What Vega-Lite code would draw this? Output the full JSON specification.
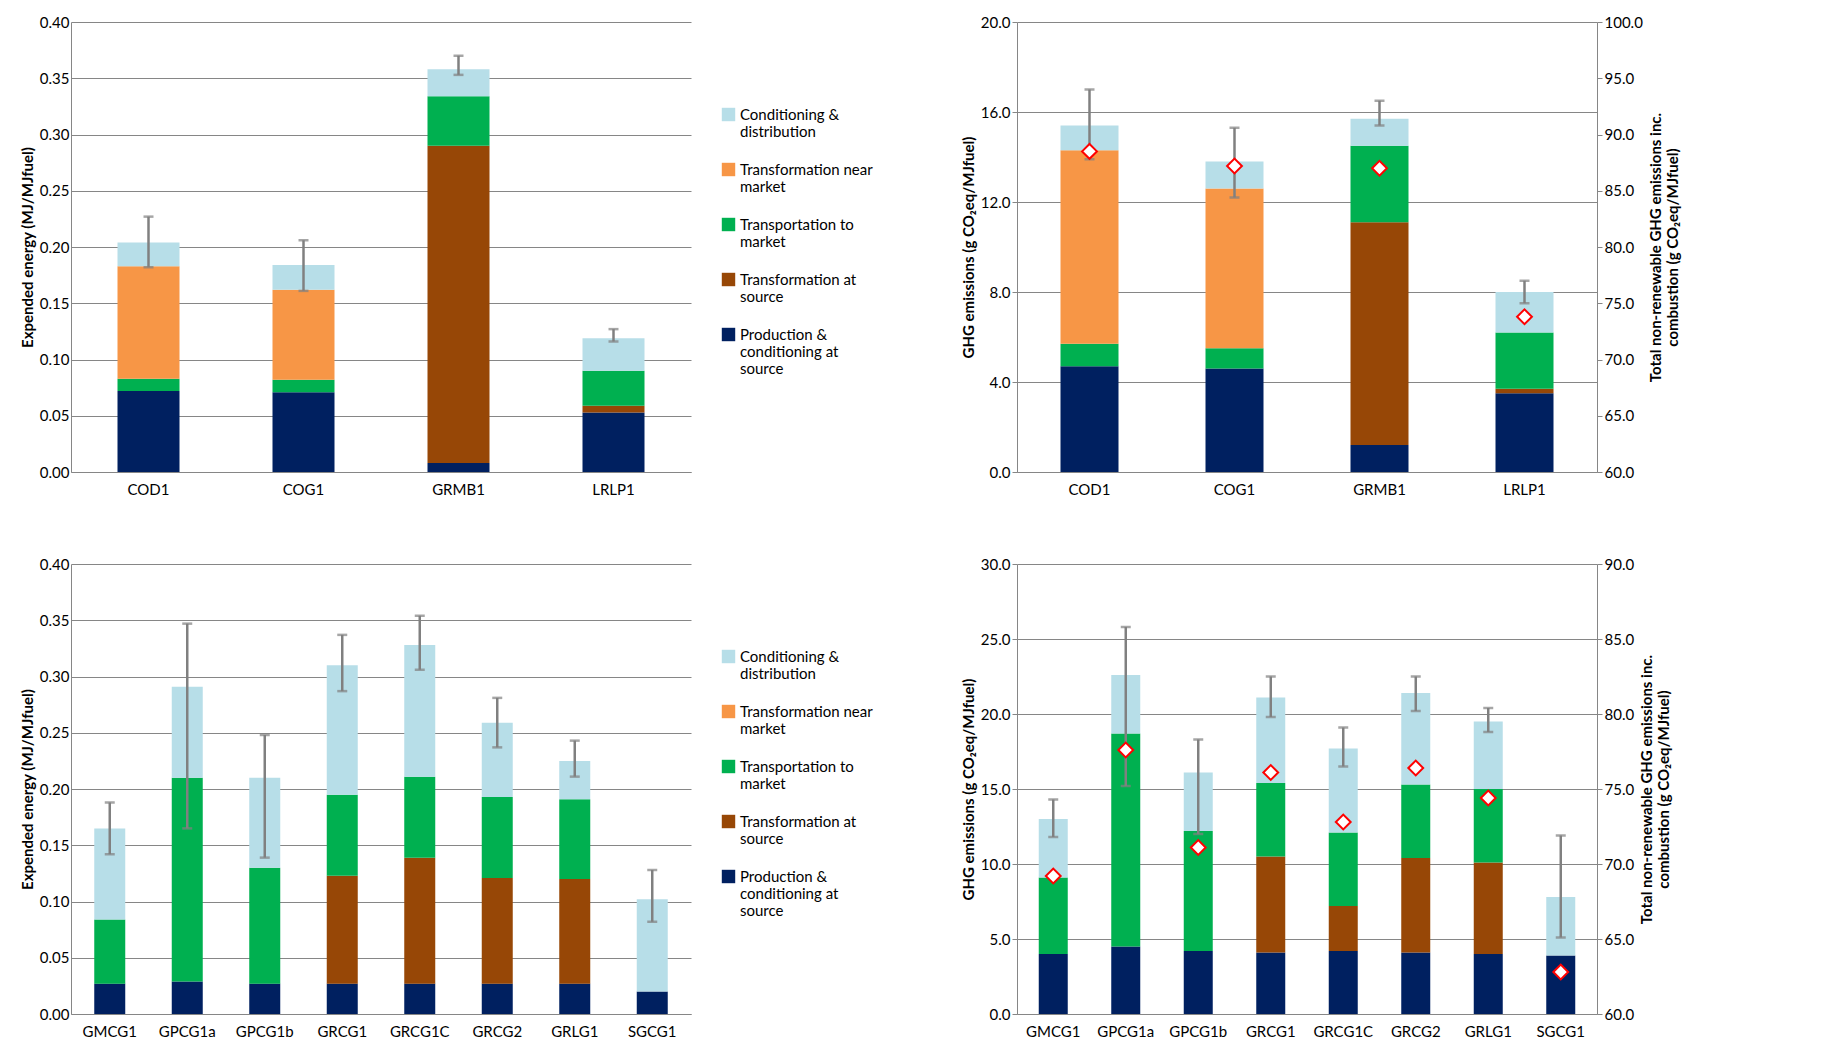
{
"$schema":"https://vega.github.io/schema/vega-lite/v6.json",
"background":"white",
"padding":{"left":20,"top":15,"right":10,"bottom":10},
"config":{"font":"Lato","view":{"stroke":null},"concat":{"spacing":60},
 "axis":{"labelFontSize":15,"titleFontSize":15,"titleFontWeight":"bold","labelColor":"#000","titleColor":"#000","domainColor":"#868686","tickColor":"#868686","gridColor":"#868686"},
 "axisX":{"labelAngle":0,"title":null,"ticks":false,"grid":false,"labelPadding":10},
 "legend":{"labelFontSize":15,"symbolType":"square","symbolSize":180,"rowPadding":22,"labelColor":"#000"},
 "scale":{"bandPaddingInner":0.6,"bandPaddingOuter":0.3}},
"datasets":{
 "tl":[
  {"n":"COD1","s":"P","o":1,"v":0.072},{"n":"COD1","s":"T","o":3,"v":0.011},{"n":"COD1","s":"N","o":4,"v":0.100},{"n":"COD1","s":"C","o":5,"v":0.021},
  {"n":"COG1","s":"P","o":1,"v":0.071},{"n":"COG1","s":"T","o":3,"v":0.011},{"n":"COG1","s":"N","o":4,"v":0.080},{"n":"COG1","s":"C","o":5,"v":0.022},
  {"n":"GRMB1","s":"P","o":1,"v":0.008},{"n":"GRMB1","s":"S","o":2,"v":0.282},{"n":"GRMB1","s":"T","o":3,"v":0.044},{"n":"GRMB1","s":"C","o":5,"v":0.024},
  {"n":"LRLP1","s":"P","o":1,"v":0.053},{"n":"LRLP1","s":"S","o":2,"v":0.006},{"n":"LRLP1","s":"T","o":3,"v":0.031},{"n":"LRLP1","s":"C","o":5,"v":0.029}],
 "tle":[{"n":"COD1","lo":0.182,"hi":0.227},{"n":"COG1","lo":0.161,"hi":0.206},{"n":"GRMB1","lo":0.353,"hi":0.370},{"n":"LRLP1","lo":0.116,"hi":0.127}],
 "tr":[
  {"n":"COD1","s":"P","o":1,"v":4.7},{"n":"COD1","s":"T","o":3,"v":1.0},{"n":"COD1","s":"N","o":4,"v":8.6},{"n":"COD1","s":"C","o":5,"v":1.1},
  {"n":"COG1","s":"P","o":1,"v":4.6},{"n":"COG1","s":"T","o":3,"v":0.9},{"n":"COG1","s":"N","o":4,"v":7.1},{"n":"COG1","s":"C","o":5,"v":1.2},
  {"n":"GRMB1","s":"P","o":1,"v":1.2},{"n":"GRMB1","s":"S","o":2,"v":9.9},{"n":"GRMB1","s":"T","o":3,"v":3.4},{"n":"GRMB1","s":"C","o":5,"v":1.2},
  {"n":"LRLP1","s":"P","o":1,"v":3.5},{"n":"LRLP1","s":"S","o":2,"v":0.2},{"n":"LRLP1","s":"T","o":3,"v":2.5},{"n":"LRLP1","s":"C","o":5,"v":1.8}],
 "tre":[{"n":"COD1","lo":13.9,"hi":17.0,"d":88.5},{"n":"COG1","lo":12.2,"hi":15.3,"d":87.2},{"n":"GRMB1","lo":15.4,"hi":16.5,"d":87.0},{"n":"LRLP1","lo":7.5,"hi":8.5,"d":73.8}],
 "bl":[
  {"n":"GMCG1","s":"P","o":1,"v":0.027},{"n":"GMCG1","s":"T","o":3,"v":0.057},{"n":"GMCG1","s":"C","o":5,"v":0.081},
  {"n":"GPCG1a","s":"P","o":1,"v":0.029},{"n":"GPCG1a","s":"T","o":3,"v":0.181},{"n":"GPCG1a","s":"C","o":5,"v":0.081},
  {"n":"GPCG1b","s":"P","o":1,"v":0.027},{"n":"GPCG1b","s":"T","o":3,"v":0.103},{"n":"GPCG1b","s":"C","o":5,"v":0.080},
  {"n":"GRCG1","s":"P","o":1,"v":0.027},{"n":"GRCG1","s":"S","o":2,"v":0.096},{"n":"GRCG1","s":"T","o":3,"v":0.072},{"n":"GRCG1","s":"C","o":5,"v":0.115},
  {"n":"GRCG1C","s":"P","o":1,"v":0.027},{"n":"GRCG1C","s":"S","o":2,"v":0.112},{"n":"GRCG1C","s":"T","o":3,"v":0.072},{"n":"GRCG1C","s":"C","o":5,"v":0.117},
  {"n":"GRCG2","s":"P","o":1,"v":0.027},{"n":"GRCG2","s":"S","o":2,"v":0.094},{"n":"GRCG2","s":"T","o":3,"v":0.072},{"n":"GRCG2","s":"C","o":5,"v":0.066},
  {"n":"GRLG1","s":"P","o":1,"v":0.027},{"n":"GRLG1","s":"S","o":2,"v":0.093},{"n":"GRLG1","s":"T","o":3,"v":0.071},{"n":"GRLG1","s":"C","o":5,"v":0.034},
  {"n":"SGCG1","s":"P","o":1,"v":0.020},{"n":"SGCG1","s":"C","o":5,"v":0.082}],
 "ble":[{"n":"GMCG1","lo":0.142,"hi":0.188},{"n":"GPCG1a","lo":0.165,"hi":0.347},{"n":"GPCG1b","lo":0.139,"hi":0.248},{"n":"GRCG1","lo":0.287,"hi":0.337},{"n":"GRCG1C","lo":0.306,"hi":0.354},{"n":"GRCG2","lo":0.237,"hi":0.281},{"n":"GRLG1","lo":0.211,"hi":0.243},{"n":"SGCG1","lo":0.082,"hi":0.128}],
 "br":[
  {"n":"GMCG1","s":"P","o":1,"v":4.0},{"n":"GMCG1","s":"T","o":3,"v":5.1},{"n":"GMCG1","s":"C","o":5,"v":3.9},
  {"n":"GPCG1a","s":"P","o":1,"v":4.5},{"n":"GPCG1a","s":"T","o":3,"v":14.2},{"n":"GPCG1a","s":"C","o":5,"v":3.9},
  {"n":"GPCG1b","s":"P","o":1,"v":4.2},{"n":"GPCG1b","s":"T","o":3,"v":8.0},{"n":"GPCG1b","s":"C","o":5,"v":3.9},
  {"n":"GRCG1","s":"P","o":1,"v":4.1},{"n":"GRCG1","s":"S","o":2,"v":6.4},{"n":"GRCG1","s":"T","o":3,"v":4.9},{"n":"GRCG1","s":"C","o":5,"v":5.7},
  {"n":"GRCG1C","s":"P","o":1,"v":4.2},{"n":"GRCG1C","s":"S","o":2,"v":3.0},{"n":"GRCG1C","s":"T","o":3,"v":4.9},{"n":"GRCG1C","s":"C","o":5,"v":5.6},
  {"n":"GRCG2","s":"P","o":1,"v":4.1},{"n":"GRCG2","s":"S","o":2,"v":6.3},{"n":"GRCG2","s":"T","o":3,"v":4.9},{"n":"GRCG2","s":"C","o":5,"v":6.1},
  {"n":"GRLG1","s":"P","o":1,"v":4.0},{"n":"GRLG1","s":"S","o":2,"v":6.1},{"n":"GRLG1","s":"T","o":3,"v":4.9},{"n":"GRLG1","s":"C","o":5,"v":4.5},
  {"n":"SGCG1","s":"P","o":1,"v":3.9},{"n":"SGCG1","s":"C","o":5,"v":3.9}],
 "bre":[{"n":"GMCG1","lo":11.8,"hi":14.3,"d":69.2},{"n":"GPCG1a","lo":15.2,"hi":25.8,"d":77.6},{"n":"GPCG1b","lo":12.0,"hi":18.3,"d":71.1},{"n":"GRCG1","lo":19.8,"hi":22.5,"d":76.1},{"n":"GRCG1C","lo":16.5,"hi":19.1,"d":72.8},{"n":"GRCG2","lo":20.2,"hi":22.5,"d":76.4},{"n":"GRLG1","lo":18.8,"hi":20.4,"d":74.4},{"n":"SGCG1","lo":5.1,"hi":11.9,"d":62.8}]
},
"resolve":{"scale":{"color":"independent","y":"independent","x":"independent"},"legend":{"color":"independent"}},
"vconcat":[
 {"spacing":270,"hconcat":[
  {"width":620,"height":450,"layer":[
   {"data":{"name":"tl"},"mark":"bar","encoding":{"x":{"field":"n","type":"nominal","sort":null},"y":{"field":"v","type":"quantitative","stack":"zero","scale":{"domain":[0,0.4]},"axis":{"values":[0,0.05,0.1,0.15,0.2,0.25,0.3,0.35,0.4],"format":".2f","title":"Expended energy (MJ/MJfuel)","ticks":false}},
    "color":{"field":"s","type":"nominal","scale":{"domain":["C","N","T","S","P"],"range":["#b7dee8","#f79646","#00b050","#974706","#002060"]},"legend":{"title":null,"orient":"none","legendX":650,"legendY":85,"labelExpr":"{'C':['Conditioning &','distribution'],'N':['Transformation near','market'],'T':['Transportation to','market'],'S':['Transformation at','source'],'P':['Production &','conditioning at','source']}[datum.label]"}},"order":{"field":"o"}}},
   {"data":{"name":"tle"},"mark":{"type":"rule","color":"#808080","strokeWidth":2.5},"encoding":{"x":{"field":"n","type":"nominal","sort":null},"y":{"field":"lo","type":"quantitative"},"y2":{"field":"hi"}}},
   {"data":{"name":"tle"},"mark":{"type":"tick","color":"#808080","thickness":2.5,"size":10},"encoding":{"x":{"field":"n","type":"nominal","sort":null},"y":{"field":"lo","type":"quantitative"}}},
   {"data":{"name":"tle"},"mark":{"type":"tick","color":"#808080","thickness":2.5,"size":10},"encoding":{"x":{"field":"n","type":"nominal","sort":null},"y":{"field":"hi","type":"quantitative"}}}
  ]},
  {"width":580,"height":450,"resolve":{"scale":{"y":"independent"}},"layer":[
   {"layer":[
    {"data":{"name":"tr"},"mark":"bar","encoding":{"x":{"field":"n","type":"nominal","sort":null},"y":{"field":"v","type":"quantitative","stack":"zero","scale":{"domain":[0,20]},"axis":{"values":[0,4,8,12,16,20],"format":".1f","title":"GHG emissions  (g CO₂eq/MJfuel)"}},
     "color":{"field":"s","type":"nominal","scale":{"domain":["C","N","T","S","P"],"range":["#b7dee8","#f79646","#00b050","#974706","#002060"]},"legend":null},"order":{"field":"o"}}},
    {"data":{"name":"tre"},"mark":{"type":"rule","color":"#808080","strokeWidth":2.5},"encoding":{"x":{"field":"n","type":"nominal","sort":null},"y":{"field":"lo","type":"quantitative"},"y2":{"field":"hi"}}},
    {"data":{"name":"tre"},"mark":{"type":"tick","color":"#808080","thickness":2.5,"size":10},"encoding":{"x":{"field":"n","type":"nominal","sort":null},"y":{"field":"lo","type":"quantitative"}}},
    {"data":{"name":"tre"},"mark":{"type":"tick","color":"#808080","thickness":2.5,"size":10},"encoding":{"x":{"field":"n","type":"nominal","sort":null},"y":{"field":"hi","type":"quantitative"}}}
   ]},
   {"data":{"name":"tre"},"mark":{"type":"point","shape":"diamond","filled":true,"fill":"white","stroke":"#ff0000","strokeWidth":2,"size":220,"opacity":1},"encoding":{"x":{"field":"n","type":"nominal","sort":null},"y":{"field":"d","type":"quantitative","scale":{"domain":[60,100]},"axis":{"orient":"right","values":[60,65,70,75,80,85,90,95,100],"format":".1f","grid":false,"titleAngle":270,"title":["Total non-renewable GHG emissions inc.","combustion (g CO₂eq/MJfuel)"]}}}}
  ]}
 ]},
 {"spacing":270,"hconcat":[
  {"width":620,"height":450,"layer":[
   {"data":{"name":"bl"},"mark":"bar","encoding":{"x":{"field":"n","type":"nominal","sort":null},"y":{"field":"v","type":"quantitative","stack":"zero","scale":{"domain":[0,0.4]},"axis":{"values":[0,0.05,0.1,0.15,0.2,0.25,0.3,0.35,0.4],"format":".2f","title":"Expended energy (MJ/MJfuel)","ticks":false}},
    "color":{"field":"s","type":"nominal","scale":{"domain":["C","N","T","S","P"],"range":["#b7dee8","#f79646","#00b050","#974706","#002060"]},"legend":{"title":null,"orient":"none","legendX":650,"legendY":85,"labelExpr":"{'C':['Conditioning &','distribution'],'N':['Transformation near','market'],'T':['Transportation to','market'],'S':['Transformation at','source'],'P':['Production &','conditioning at','source']}[datum.label]"}},"order":{"field":"o"}}},
   {"data":{"name":"ble"},"mark":{"type":"rule","color":"#808080","strokeWidth":2.5},"encoding":{"x":{"field":"n","type":"nominal","sort":null},"y":{"field":"lo","type":"quantitative"},"y2":{"field":"hi"}}},
   {"data":{"name":"ble"},"mark":{"type":"tick","color":"#808080","thickness":2.5,"size":10},"encoding":{"x":{"field":"n","type":"nominal","sort":null},"y":{"field":"lo","type":"quantitative"}}},
   {"data":{"name":"ble"},"mark":{"type":"tick","color":"#808080","thickness":2.5,"size":10},"encoding":{"x":{"field":"n","type":"nominal","sort":null},"y":{"field":"hi","type":"quantitative"}}}
  ]},
  {"width":580,"height":450,"resolve":{"scale":{"y":"independent"}},"layer":[
   {"layer":[
    {"data":{"name":"br"},"mark":"bar","encoding":{"x":{"field":"n","type":"nominal","sort":null},"y":{"field":"v","type":"quantitative","stack":"zero","scale":{"domain":[0,30]},"axis":{"values":[0,5,10,15,20,25,30],"format":".1f","title":"GHG emissions  (g CO₂eq/MJfuel)"}},
     "color":{"field":"s","type":"nominal","scale":{"domain":["C","N","T","S","P"],"range":["#b7dee8","#f79646","#00b050","#974706","#002060"]},"legend":null},"order":{"field":"o"}}},
    {"data":{"name":"bre"},"mark":{"type":"rule","color":"#808080","strokeWidth":2.5},"encoding":{"x":{"field":"n","type":"nominal","sort":null},"y":{"field":"lo","type":"quantitative"},"y2":{"field":"hi"}}},
    {"data":{"name":"bre"},"mark":{"type":"tick","color":"#808080","thickness":2.5,"size":10},"encoding":{"x":{"field":"n","type":"nominal","sort":null},"y":{"field":"lo","type":"quantitative"}}},
    {"data":{"name":"bre"},"mark":{"type":"tick","color":"#808080","thickness":2.5,"size":10},"encoding":{"x":{"field":"n","type":"nominal","sort":null},"y":{"field":"hi","type":"quantitative"}}}
   ]},
   {"data":{"name":"bre"},"mark":{"type":"point","shape":"diamond","filled":true,"fill":"white","stroke":"#ff0000","strokeWidth":2,"size":220,"opacity":1},"encoding":{"x":{"field":"n","type":"nominal","sort":null},"y":{"field":"d","type":"quantitative","scale":{"domain":[60,90]},"axis":{"orient":"right","values":[60,65,70,75,80,85,90],"format":".1f","grid":false,"titleAngle":270,"title":["Total non-renewable GHG emissions inc.","combustion (g CO₂eq/MJfuel)"]}}}}
  ]}
 ]}
]
}
